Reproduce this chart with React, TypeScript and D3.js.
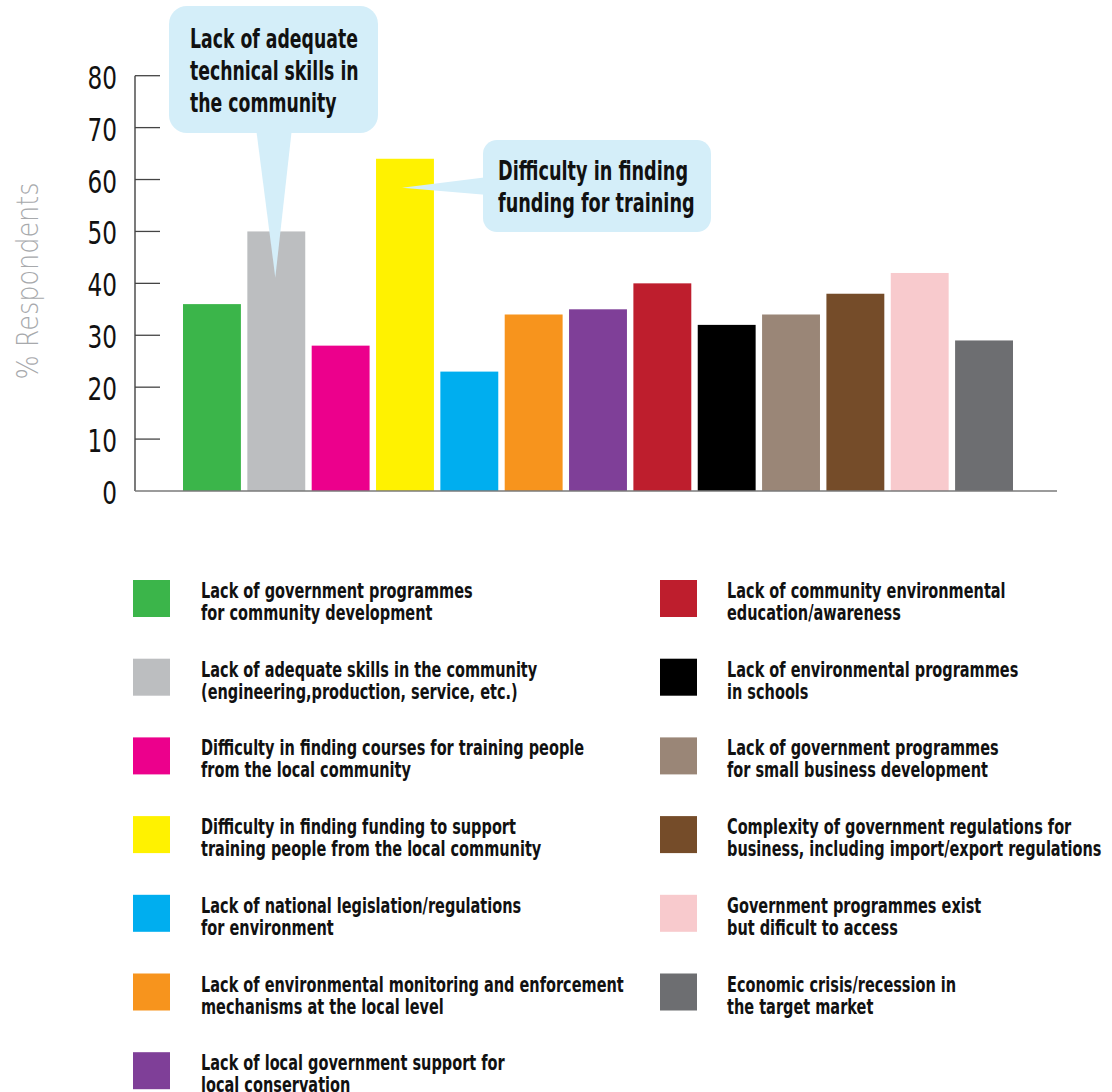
import React from "react";
import * as d3 from "d3";

const categories = [
  "Lack of government programmes for community development",
  "Lack of adequate skills in the community",
  "Difficulty in finding courses for training",
  "Difficulty in finding funding",
  "Lack of national legislation/regulations",
  "Lack of environmental monitoring",
  "Lack of local government support",
  "Lack of community environmental education",
  "Lack of environmental programmes in schools",
  "Lack of government programmes for small business",
  "Complexity of government regulations",
  "Government programmes exist but difficult",
  "Economic crisis/recession",
];

const values = [36, 50, 28, 64, 23, 34, 35, 40, 32, 34, 38, 42, 29];

const colors = [
  "#3bb54a", "#bcbec0", "#ec008c", "#fff200", "#00aeef", "#f7941d", "#7f3f98",
  "#be1e2d", "#000000", "#9a8677", "#754c29", "#f8cacd", "#6d6e71",
];

const legendLabels: string[][] = [
  ["Lack of government programmes", "for community development"],
  ["Lack of adequate skills in the community", "(engineering,production, service, etc.)"],
  ["Difficulty in finding courses for training people", "from the local community"],
  ["Difficulty in finding funding to support", "training people from the local community"],
  ["Lack of national legislation/regulations", "for environment"],
  ["Lack of environmental monitoring and enforcement", "mechanisms at the local level"],
  ["Lack of local government support for", "local conservation"],
  ["Lack of community environmental", "education/awareness"],
  ["Lack of environmental programmes", "in schools"],
  ["Lack of government programmes", "for small business development"],
  ["Complexity of government regulations for", "business, including import/export regulations"],
  ["Government programmes exist", "but dificult to access"],
  ["Economic crisis/recession in", "the target market"],
];

const yTicks = [0, 10, 20, 30, 40, 50, 60, 70, 80];
const yLabel = "% Respondents";

const callout1Lines = ["Lack of adequate", "technical skills in", "the community"];
const callout2Lines = ["Difficulty in finding", "funding for training"];

const FONT = "'DejaVu Sans', 'Liberation Sans', sans-serif";
const CALLOUT_FILL = "#d4eef9";

type NTProps = {
  x: number;
  y: number;
  sx: number;
  size: number;
  bold?: boolean;
  anchor?: string;
  fill?: string;
  children: React.ReactNode;
};

function NarrowText({ x, y, sx, size, bold, anchor, fill, children }: NTProps) {
  return (
    <text
      transform={`translate(${x},${y}) scale(${sx},1)`}
      textAnchor={anchor || "start"}
      fontFamily={FONT}
      fontWeight={bold ? "bold" : "normal"}
      fontSize={size}
      fill={fill || "#111"}
    >
      {children}
    </text>
  );
}

export default function App() {
  const W = 1112;
  const H = 1092;
  const axisX = 135;
  const x = d3
    .scaleBand<string>()
    .domain(categories)
    .range([183, 1013])
    .paddingInner(0.1)
    .paddingOuter(0);
  const y = d3.scaleLinear().domain([0, 80]).range([491, 75.7]);

  const bw = x.bandwidth();

  const tip1x = (x(categories[1]) as number) + bw / 2 - 1;
  const tip1y = y(values[1]) + 46;
  const tip2x = (x(categories[3]) as number) + 26;
  const tip2y = y(values[3]) + 29;

  const leftCount = 7;
  const rowY = (i: number) => 580 + i * 78.7;

  return (
    <svg
      width={W}
      height={H}
      style={{ position: "absolute", left: 0, top: 0, background: "#fff" }}
    >
      {/* Y axis title */}
      <text
        transform={`translate(38,281) rotate(-90) scale(0.85,1)`}
        textAnchor="middle"
        fontFamily={FONT}
        fontSize={30}
        fill="#a7a9ac"
        fontWeight={200}
      >
        {yLabel}
      </text>

      {/* bars */}
      {values.map((v, i) => (
        <rect
          key={i}
          x={x(categories[i])}
          y={y(v)}
          width={bw}
          height={y(0) - y(v)}
          fill={colors[i]}
        />
      ))}

      {/* axis */}
      <line x1={axisX} x2={axisX} y1={y(80)} y2={y(0)} stroke="#333" strokeWidth={1.3} />
      <line x1={axisX} x2={1057} y1={y(0)} y2={y(0)} stroke="#7a7a7a" strokeWidth={1.6} />
      {yTicks.map((t) => (
        <g key={t}>
          {t > 0 && (
            <line x1={axisX} x2={160} y1={y(t)} y2={y(t)} stroke="#444" strokeWidth={1.3} />
          )}
          <NarrowText x={117} y={y(t) + 13} sx={0.725} size={32} anchor="end">
            {t}
          </NarrowText>
        </g>
      ))}

      {/* callout 1 */}
      <g>
        <path d={`M256,128 L292,128 L${tip1x},${tip1y} Z`} fill={CALLOUT_FILL} />
        <rect x={169} y={6} width={209} height={127} rx={18} fill={CALLOUT_FILL} />
        {callout1Lines.map((l, i) => (
          <NarrowText key={i} x={190} y={48 + i * 32} sx={0.665} size={26} bold>
            {l}
          </NarrowText>
        ))}
      </g>

      {/* callout 2 */}
      <g>
        <path d={`M488,177 L488,195 L${tip2x},${tip2y} Z`} fill={CALLOUT_FILL} />
        <rect x={483} y={140} width={228} height={92} rx={14} fill={CALLOUT_FILL} />
        {callout2Lines.map((l, i) => (
          <NarrowText key={i} x={498} y={180 + i * 32} sx={0.68} size={26} bold>
            {l}
          </NarrowText>
        ))}
      </g>

      {/* legend */}
      {legendLabels.map((lines, i) => {
        const col = i < leftCount ? 0 : 1;
        const row = col === 0 ? i : i - leftCount;
        const sx = col === 0 ? 133 : 660;
        const tx = col === 0 ? 201 : 727;
        const sy = rowY(row);
        return (
          <g key={i}>
            <rect x={sx} y={sy} width={37} height={37} fill={colors[i]} />
            {lines.map((l, j) => (
              <NarrowText key={j} x={tx} y={sy + 18 + j * 22} sx={0.66} size={22} bold>
                {l}
              </NarrowText>
            ))}
          </g>
        );
      })}
    </svg>
  );
}
